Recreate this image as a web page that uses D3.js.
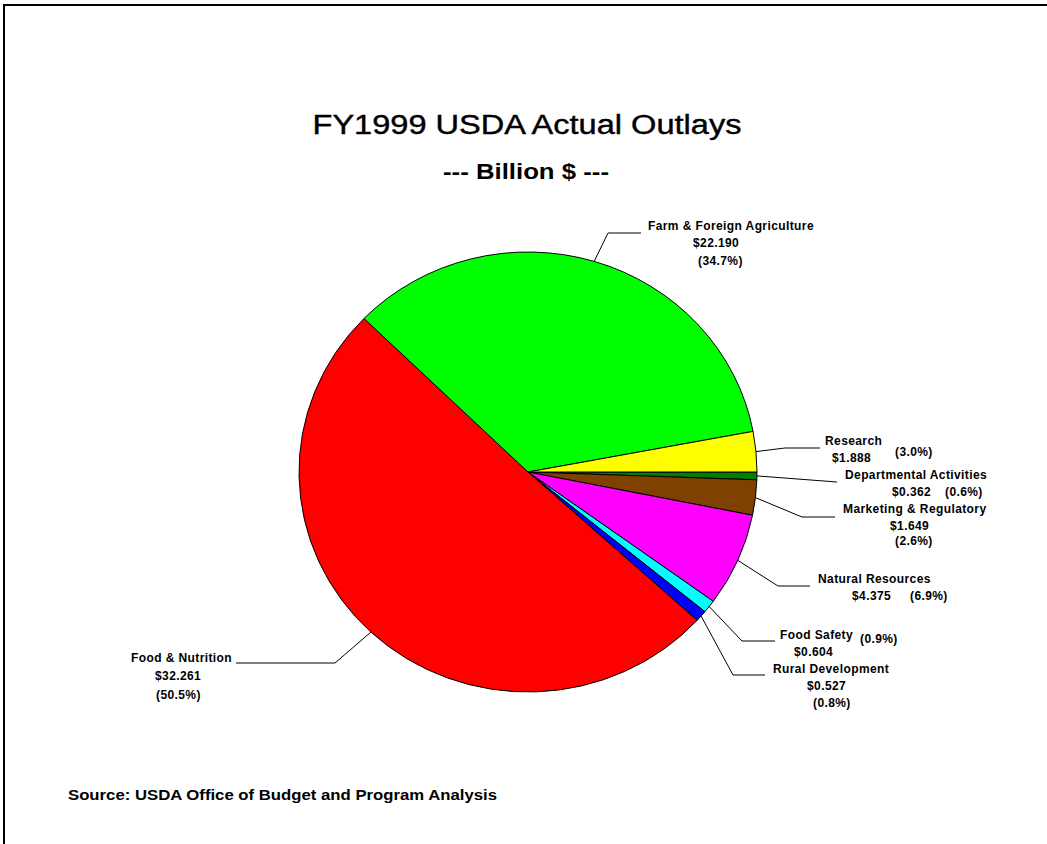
<!DOCTYPE html>
<html>
<head>
<meta charset="utf-8">
<script src="https://cdn.jsdelivr.net/npm/d3@7"></script>
<style>
  body { margin: 0; background: #fff; }
  text { font-family: "Liberation Sans", Arial, sans-serif; fill: #000; }
  .lbl { font-size: 12px; font-weight: bold; letter-spacing: 0.4px; }
</style>
</head>
<body>
<div id="chart"></div>
<script>
// FY1999 USDA outlays pie, billion $
// slices listed clockwise starting at 3 o'clock
let categories = ["Departmental Activities", "Marketing & Regulatory", "Natural Resources",
  "Food Safety", "Rural Development", "Food & Nutrition",
  "Farm & Foreign Agriculture", "Research"];
let values = [0.362, 1.649, 4.375, 0.604, 0.527, 32.261, 22.190, 1.888];
let percents = ["(0.6%)", "(2.6%)", "(6.9%)", "(0.9%)", "(0.8%)", "(50.5%)", "(34.7%)", "(3.0%)"];
let colors = ["#008000", "#804000", "#ff00ff", "#00ffff", "#0000ff", "#ff0000", "#00ff00", "#ffff00"];

// label placement: name/value/pct as [x, y] start points, leader as elbow points after the slice edge
let labelLayout = {
  "Departmental Activities": { name: [845, 479], value: [892, 496], pct: [945, 496], leader: [[837, 482]] },
  "Marketing & Regulatory": { name: [843, 513], value: [890, 530], pct: [895, 545], leader: [[802, 517], [835, 517]] },
  "Natural Resources": { name: [818, 583], value: [852, 600], pct: [910, 600], leader: [[778, 586], [810, 586]] },
  "Food Safety": { name: [780, 639], value: [794, 656], pct: [860, 643], leader: [[742, 641], [775, 641]] },
  "Rural Development": { name: [773, 673], value: [807, 690], pct: [813, 707], leader: [[733, 675], [765, 675]] },
  "Food & Nutrition": { name: [131, 662], value: [155, 680], pct: [156, 699], leader: [[335, 663], [236, 663]] },
  "Farm & Foreign Agriculture": { name: [648, 230], value: [693, 247], pct: [698, 265], leader: [[608, 233], [641, 233]] },
  "Research": { name: [825, 445], value: [832, 462], pct: [895, 456], leader: [[785, 448], [820, 448]] }
};

let width = 1047, height = 844;
let cx = 528, cy = 472, rx = 229, ry = 220;

let svg = d3.select("#chart").append("svg")
  .attr("width", width)
  .attr("height", height);

// frame (open at right and bottom like the scan)
svg.append("path")
  .attr("d", `M4,${height} L4,5 L${width},5`)
  .attr("fill", "none")
  .attr("stroke", "#000")
  .attr("stroke-width", 2);

// titles
svg.append("text")
  .attr("x", 527).attr("y", 134)
  .attr("text-anchor", "middle")
  .attr("textLength", 429).attr("lengthAdjust", "spacingAndGlyphs")
  .style("font-size", "27px")
  .style("stroke", "#000").style("stroke-width", 0.4)
  .text("FY1999 USDA Actual Outlays");

svg.append("text")
  .attr("x", 526).attr("y", 179)
  .attr("text-anchor", "middle")
  .attr("textLength", 166).attr("lengthAdjust", "spacingAndGlyphs")
  .style("font-size", "22px").style("font-weight", "bold")
  .text("--- Billion $ ---");

svg.append("text")
  .attr("x", 68).attr("y", 800)
  .attr("textLength", 429).attr("lengthAdjust", "spacingAndGlyphs")
  .style("font-size", "14px").style("font-weight", "bold")
  .text("Source: USDA Office of Budget and Program Analysis");

// pie, drawn on a circle and squashed into an ellipse
let data = categories.map((c, i) => ({ name: c, value: values[i], pct: percents[i], color: colors[i] }));

let pie = d3.pie()
  .sort(null)
  .value(d => d.value)
  .startAngle(Math.PI / 2)
  .endAngle(Math.PI / 2 + 2 * Math.PI);

let arcs = pie(data);
let arc = d3.arc().innerRadius(0).outerRadius(ry);

let g = svg.append("g")
  .attr("transform", `translate(${cx},${cy}) scale(${rx / ry},1)`);

g.selectAll("path")
  .data(arcs)
  .join("path")
  .attr("d", arc)
  .attr("fill", d => d.data.color)
  .attr("stroke", "#000")
  .attr("stroke-width", 1)
  .attr("vector-effect", "non-scaling-stroke");

// edge point of a slice at its middle angle
function edgePoint(d) {
  let a = (d.startAngle + d.endAngle) / 2;
  return [cx + rx * Math.sin(a), cy - ry * Math.cos(a)];
}

let labels = svg.append("g");

arcs.forEach(d => {
  let lay = labelLayout[d.data.name];
  let pts = [edgePoint(d)].concat(lay.leader);
  labels.append("path")
    .attr("d", d3.line()(pts))
    .attr("fill", "none")
    .attr("stroke", "#000")
    .attr("stroke-width", 1);

  labels.append("text").attr("class", "lbl")
    .attr("x", lay.name[0]).attr("y", lay.name[1])
    .text(d.data.name);
  labels.append("text").attr("class", "lbl")
    .attr("x", lay.value[0]).attr("y", lay.value[1])
    .text("$" + d3.format(".3f")(d.data.value));
  labels.append("text").attr("class", "lbl")
    .attr("x", lay.pct[0]).attr("y", lay.pct[1])
    .text(d.data.pct);
});
</script>
</body>
</html>
